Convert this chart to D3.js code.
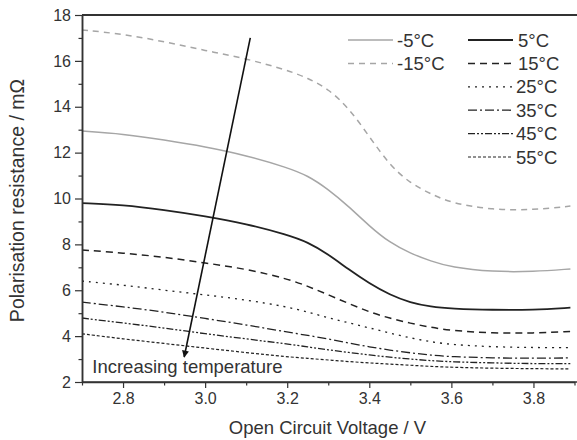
<!DOCTYPE html>
<html><head><meta charset="utf-8">
<script src="https://cdn.jsdelivr.net/npm/d3@7"></script>
<style>
html,body{margin:0;padding:0;background:#fff;}
svg{display:block;font-family:"Liberation Sans",Arial,sans-serif;}
</style></head>
<body>
<svg id="chart" width="577" height="440"></svg>
<script>
// ---- data ----
const voltage = [2.7, 2.8, 2.9, 3.0, 3.1, 3.2, 3.25, 3.3, 3.35, 3.4, 3.45, 3.5, 3.55, 3.6, 3.7, 3.8, 3.89];
const seriesNames = ["-5°C", "5°C", "-15°C", "15°C", "25°C", "35°C", "45°C", "55°C"];
const rMinus15 = [17.35, 17.17, 16.84, 16.45, 16.1, 15.6, 15.25, 14.78, 13.95, 12.7, 11.45, 10.66, 10.2, 9.8, 9.5, 9.5, 9.67];
const rMinus5  = [12.94, 12.82, 12.55, 12.26, 11.88, 11.35, 11.0, 10.4, 9.65, 8.8, 8.07, 7.61, 7.27, 7.0, 6.8, 6.81, 6.93];
const r5  = [9.8, 9.72, 9.5, 9.23, 8.9, 8.42, 8.1, 7.57, 6.9, 6.3, 5.8, 5.46, 5.28, 5.2, 5.14, 5.14, 5.24];
const r15 = [7.76, 7.62, 7.45, 7.19, 6.93, 6.5, 6.18, 5.8, 5.42, 5.05, 4.78, 4.56, 4.38, 4.24, 4.13, 4.13, 4.2];
const r25 = [6.4, 6.23, 6.0, 5.8, 5.58, 5.28, 5.05, 4.8, 4.58, 4.36, 4.13, 3.92, 3.75, 3.63, 3.53, 3.5, 3.5];
const r35 = [5.48, 5.28, 5.05, 4.77, 4.49, 4.18, 4.03, 3.88, 3.7, 3.53, 3.39, 3.27, 3.17, 3.1, 3.05, 3.03, 3.05];
const r45 = [4.79, 4.57, 4.36, 4.1, 3.88, 3.66, 3.53, 3.4, 3.29, 3.18, 3.08, 3.0, 2.93, 2.88, 2.83, 2.8, 2.8];
const r55 = [4.1, 3.88, 3.68, 3.48, 3.28, 3.1, 3.03, 2.96, 2.89, 2.83, 2.78, 2.73, 2.68, 2.64, 2.6, 2.58, 2.57];
const xTicks = [2.8, 3.0, 3.2, 3.4, 3.6, 3.8];
const xMinorTicks = [2.7, 2.9, 3.1, 3.3, 3.5, 3.7, 3.9];
const yTicks = [2, 4, 6, 8, 10, 12, 14, 16, 18];
const yMinorTicks = [3, 5, 7, 9, 11, 13, 15, 17];
const arrowStart = [3.11, 17.0];
const arrowEnd = [2.949, 3.09];
const annotation = "Increasing temperature";
const annotationPos = [2.725, 2.4];

// ---- styles ----
const styleMap = {
  "-5°C":  {color:"#a6a6a6", width:1.5, dash:null},
  "5°C":   {color:"#222", width:1.8, dash:null},
  "-15°C": {color:"#a6a6a6", width:1.5, dash:"6,5"},
  "15°C":  {color:"#222", width:1.5, dash:"7,5"},
  "25°C":  {color:"#222", width:1.3, dash:"2,5"},
  "35°C":  {color:"#222", width:1.3, dash:"9,3,2,3"},
  "45°C":  {color:"#222", width:1.3, dash:"7,2,2,2,2,2"},
  "55°C":  {color:"#222", width:1.2, dash:"3,2"}
};
const valuesByName = {"-5°C":rMinus5, "5°C":r5, "-15°C":rMinus15, "15°C":r15, "25°C":r25, "35°C":r35, "45°C":r45, "55°C":r55};

const svg = d3.select("#chart");
const L = 82, R = 574.5, T = 15, B = 382;
const x = d3.scaleLinear().domain([2.7, 3.9]).range([L, R]);
const y = d3.scaleLinear().domain([2, 18]).range([B, T]);
const axisColor = "#333";

// curves
const line = d3.line().x(d => x(d[0])).y(d => y(d[1])).curve(d3.curveBasis);
const plot = svg.append("g");
seriesNames.forEach(n => {
  const st = styleMap[n];
  const pts = voltage.map((v, i) => [v, valuesByName[n][i]]);
  plot.append("path").attr("d", line(pts)).attr("fill", "none")
    .attr("stroke", st.color).attr("stroke-width", st.width)
    .attr("stroke-dasharray", st.dash);
});

// axes
const xAxis = svg.append("g").attr("transform", `translate(0,${B})`)
  .call(d3.axisBottom(x).tickValues(xTicks).tickFormat(d3.format(".1f")).tickSize(6).tickPadding(5).tickSizeOuter(0));
const xMinor = svg.append("g").attr("transform", `translate(0,${B})`)
  .call(d3.axisBottom(x).tickValues(xMinorTicks).tickFormat("").tickSize(3.5).tickSizeOuter(0));
const yAxis = svg.append("g").attr("transform", `translate(${L},0)`)
  .call(d3.axisLeft(y).tickValues(yTicks).tickFormat(d3.format("d")).tickSize(7).tickPadding(4).tickSizeOuter(0));
const yMinor = svg.append("g").attr("transform", `translate(${L},0)`)
  .call(d3.axisLeft(y).tickValues(yMinorTicks).tickFormat("").tickSize(3.5).tickSizeOuter(0));
[xAxis, xMinor, yAxis, yMinor].forEach(g => {
  g.selectAll("path").attr("stroke", axisColor).attr("stroke-width", 1.5);
  g.selectAll("line").attr("stroke", axisColor).attr("stroke-width", 1.2);
  g.selectAll("text").attr("fill", "#333").style("font-size", "16px").style("font-family", "Liberation Sans, Arial, sans-serif");
});
xAxis.select(".domain").attr("d", `M${L},0H577`);
// top frame line
svg.append("line").attr("x1", L).attr("x2", 577).attr("y1", T).attr("y2", T)
  .attr("stroke", axisColor).attr("stroke-width", 1.8);

// axis titles
svg.append("text").attr("x", (L + 577) / 2 - 2).attr("y", 434).attr("text-anchor", "middle")
  .attr("fill", "#333").style("font-size", "18.5px").text("Open Circuit Voltage / V");
svg.append("text").attr("transform", `translate(24,${(T + B) / 2 + 2}) rotate(-90)`).attr("text-anchor", "middle")
  .attr("fill", "#333").style("font-size", "19.5px").text("Polarisation resistance / mΩ");

// arrow
const defs = svg.append("defs");
defs.append("marker").attr("id", "ah").attr("viewBox", "0 0 10 10").attr("refX", 9).attr("refY", 5)
  .attr("markerWidth", 9).attr("markerHeight", 7).attr("markerUnits", "userSpaceOnUse").attr("orient", "auto")
  .append("path").attr("d", "M0,0L10,5L0,10Z").attr("fill", "#111");
svg.append("line").attr("x1", x(arrowStart[0])).attr("y1", y(arrowStart[1]))
  .attr("x2", x(arrowEnd[0])).attr("y2", y(arrowEnd[1]))
  .attr("stroke", "#111").attr("stroke-width", 1.6).attr("marker-end", "url(#ah)");
svg.append("text").attr("x", x(annotationPos[0])).attr("y", y(annotationPos[1]))
  .attr("fill", "#333").style("font-size", "18.5px").text(annotation);

// legend
const legendItems = [
  {n:"-5°C", lx:348, tx:397, row:0},
  {n:"-15°C", lx:348, tx:397, row:1},
  {n:"5°C", lx:468, tx:518, row:0},
  {n:"15°C", lx:468, tx:518, row:1},
  {n:"25°C", lx:468, tx:516, row:2},
  {n:"35°C", lx:468, tx:516, row:3},
  {n:"45°C", lx:468, tx:516, row:4},
  {n:"55°C", lx:468, tx:516, row:5}
];
const lg = svg.append("g");
legendItems.forEach(it => {
  const st = styleMap[it.n];
  const cy = 40 + it.row * 23.4;
  lg.append("line").attr("x1", it.lx).attr("x2", it.lx + 45).attr("y1", cy).attr("y2", cy)
    .attr("stroke", st.color).attr("stroke-width", st.width).attr("stroke-dasharray", st.dash);
  lg.append("text").attr("x", it.tx).attr("y", cy).attr("dy", "0.36em")
    .attr("fill", "#333").style("font-size", "18.5px").text(it.n);
});
</script>
</body></html>
